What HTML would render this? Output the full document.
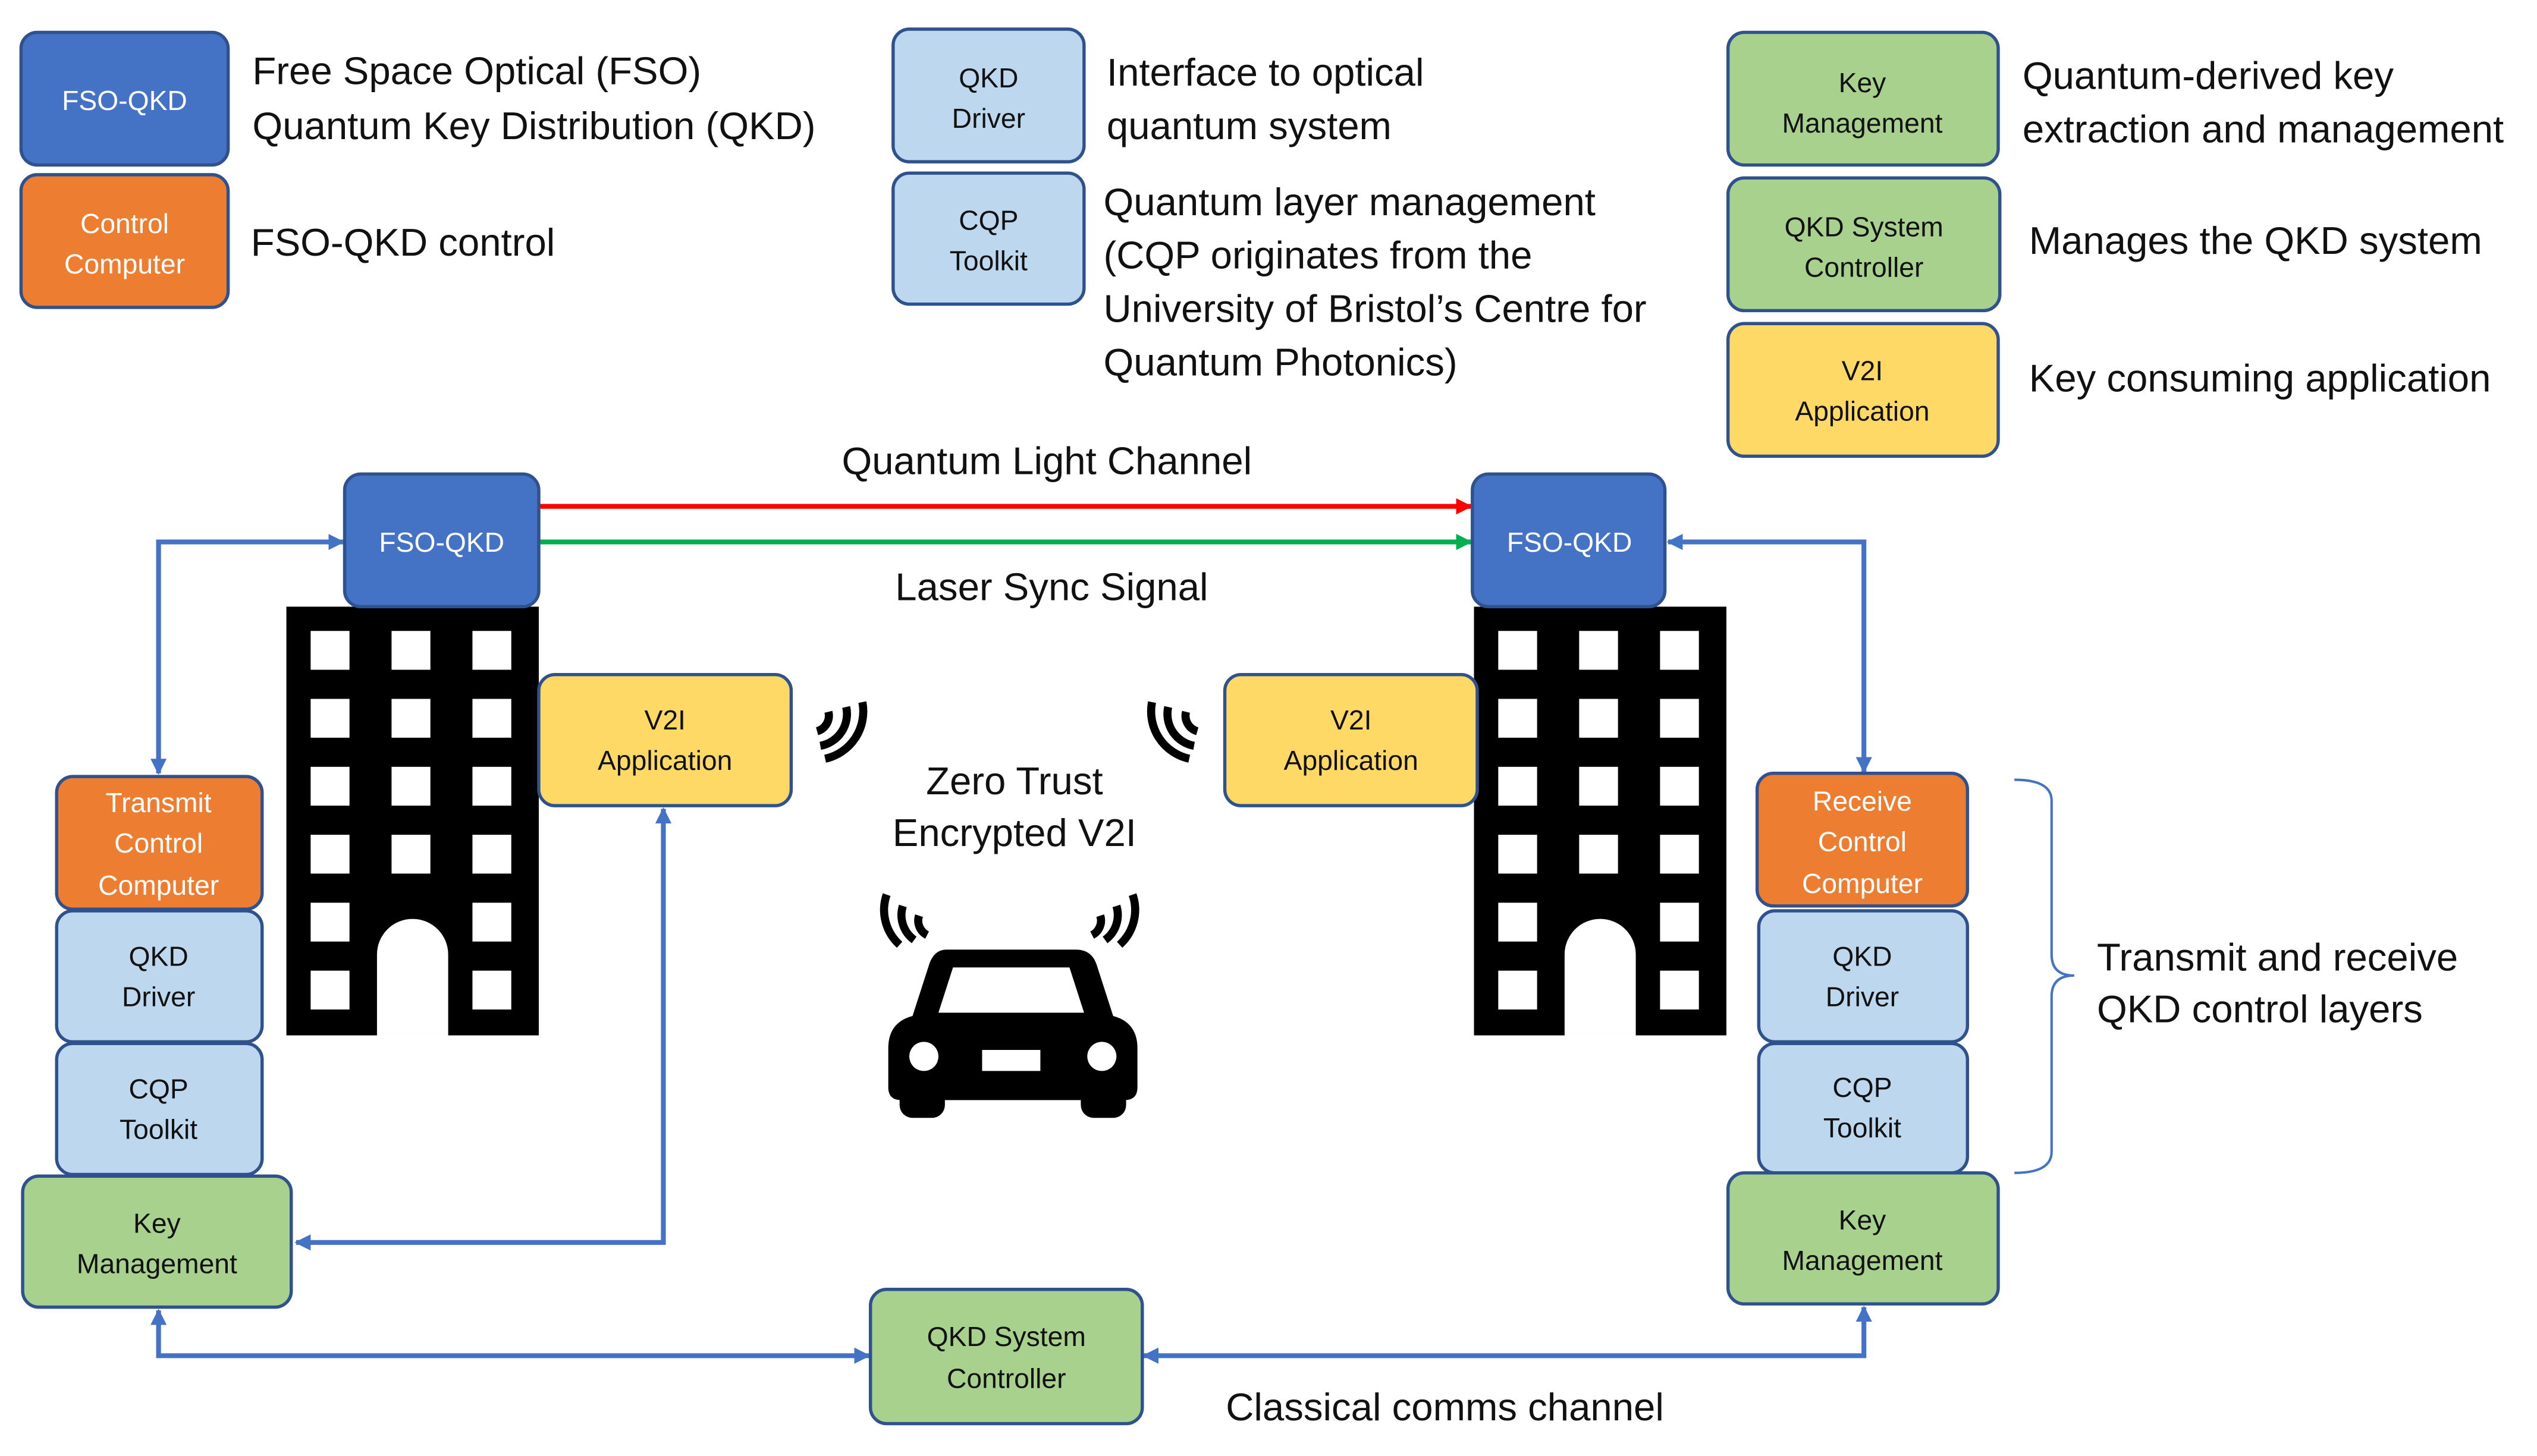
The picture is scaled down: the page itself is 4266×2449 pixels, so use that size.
<!DOCTYPE html>
<html><head><meta charset="utf-8"><style>
html,body{margin:0;padding:0;background:#fff}
svg{display:block}
text{font-family:"Liberation Sans","DejaVu Sans",sans-serif}
.l{font-size:24px;fill:#111}
.b{font-size:17px;text-anchor:middle;fill:#111}
.w{fill:#fff}
</style></head><body>
<svg width="4266" height="2449" viewBox="0 0 1568 900" preserveAspectRatio="none" xmlns="http://www.w3.org/2000/svg">
<defs>
<marker id="ab" markerWidth="10" markerHeight="10" refX="9" refY="5" orient="auto-start-reverse" markerUnits="userSpaceOnUse"><path d="M0,0 L10,5 L0,10 z" fill="#4472C4"/></marker>
<marker id="ar" markerWidth="10" markerHeight="10" refX="9" refY="5" orient="auto" markerUnits="userSpaceOnUse"><path d="M0,0 L10,5 L0,10 z" fill="#FF0000"/></marker>
<marker id="ag" markerWidth="10" markerHeight="10" refX="9" refY="5" orient="auto" markerUnits="userSpaceOnUse"><path d="M0,0 L10,5 L0,10 z" fill="#00B050"/></marker>
<g id="bld">
<rect x="0" y="0" width="156" height="265" fill="#000"/>
<g fill="#fff">
<rect x="15" y="15" width="24" height="24"/><rect x="65" y="15" width="24" height="24"/><rect x="115" y="15" width="24" height="24"/>
<rect x="15" y="57" width="24" height="24"/><rect x="65" y="57" width="24" height="24"/><rect x="115" y="57" width="24" height="24"/>
<rect x="15" y="99" width="24" height="24"/><rect x="65" y="99" width="24" height="24"/><rect x="115" y="99" width="24" height="24"/>
<rect x="15" y="141" width="24" height="24"/><rect x="65" y="141" width="24" height="24"/><rect x="115" y="141" width="24" height="24"/>
<rect x="15" y="183" width="24" height="24"/><rect x="115" y="183" width="24" height="24"/>
<rect x="15" y="225" width="24" height="24"/><rect x="115" y="225" width="24" height="24"/>
<path d="M56,265 L56,215 A22,22 0 0 1 100,215 L100,265 z"/>
</g>
</g>
</defs>

<!-- legend boxes -->
<g stroke="#2F528F" stroke-width="2">
<rect x="13" y="20" width="128" height="82" rx="10" fill="#4472C4"/>
<rect x="13" y="108" width="128" height="82" rx="10" fill="#ED7D31"/>
<rect x="552" y="18" width="118" height="82" rx="10" fill="#BDD7EE"/>
<rect x="552" y="107" width="118" height="81" rx="10" fill="#BDD7EE"/>
<rect x="1068" y="20" width="167" height="82" rx="10" fill="#A9D18E"/>
<rect x="1068" y="110" width="168" height="82" rx="10" fill="#A9D18E"/>
<rect x="1068" y="200" width="167" height="82" rx="10" fill="#FFD966"/>
</g>
<text class="b w" x="77" y="68">FSO-QKD</text>
<text class="b w" x="77" y="144">Control</text><text class="b w" x="77" y="169">Computer</text>
<text class="b" x="611" y="54">QKD</text><text class="b" x="611" y="79">Driver</text>
<text class="b" x="611" y="142">CQP</text><text class="b" x="611" y="167">Toolkit</text>
<text class="b" x="1151" y="57">Key</text><text class="b" x="1151" y="82">Management</text>
<text class="b" x="1152" y="146">QKD System</text><text class="b" x="1152" y="171">Controller</text>
<text class="b" x="1151" y="235">V2I</text><text class="b" x="1151" y="260">Application</text>

<text class="l" x="156" y="52">Free Space Optical (FSO)</text>
<text class="l" x="156" y="86">Quantum Key Distribution (QKD)</text>
<text class="l" x="155" y="158">FSO-QKD control</text>
<text class="l" x="684" y="53">Interface to optical</text>
<text class="l" x="684" y="86">quantum system</text>
<text class="l" x="682" y="133">Quantum layer management</text>
<text class="l" x="682" y="166">(CQP originates from the</text>
<text class="l" x="682" y="199">University of Bristol’s Centre for</text>
<text class="l" x="682" y="232">Quantum Photonics)</text>
<text class="l" x="1250" y="55">Quantum-derived key</text>
<text class="l" x="1250" y="88">extraction and management</text>
<text class="l" x="1254" y="157">Manages the QKD system</text>
<text class="l" x="1254" y="242">Key consuming application</text>

<!-- buildings -->
<use href="#bld" x="177" y="375"/>
<use href="#bld" x="911" y="375"/>

<!-- connectors -->
<line x1="333" y1="313" x2="909" y2="313" stroke="#FF0000" stroke-width="3" marker-end="url(#ar)"/>
<line x1="333" y1="335" x2="909" y2="335" stroke="#00B050" stroke-width="3" marker-end="url(#ag)"/>
<g stroke="#4472C4" stroke-width="3" fill="none">
<polyline points="98,478 98,335 212,335" marker-start="url(#ab)" marker-end="url(#ab)"/>
<polyline points="1031,335 1152,335 1152,477" marker-start="url(#ab)" marker-end="url(#ab)"/>
<polyline points="410,500 410,768 183,768" marker-start="url(#ab)" marker-end="url(#ab)"/>
<polyline points="98,810 98,838 537,838" marker-start="url(#ab)" marker-end="url(#ab)"/>
<polyline points="707,838 1152,838 1152,808" marker-start="url(#ab)" marker-end="url(#ab)"/>
</g>

<!-- diagram boxes -->
<g stroke="#2F528F" stroke-width="2">
<rect x="213" y="293" width="120" height="82" rx="10" fill="#4472C4"/>
<rect x="910" y="293" width="119" height="82" rx="10" fill="#4472C4"/>
<rect x="333" y="417" width="156" height="81" rx="10" fill="#FFD966"/>
<rect x="757" y="417" width="156" height="81" rx="10" fill="#FFD966"/>
<rect x="35" y="480" width="127" height="82" rx="10" fill="#ED7D31"/>
<rect x="35" y="563" width="127" height="81" rx="10" fill="#BDD7EE"/>
<rect x="35" y="645" width="127" height="81" rx="10" fill="#BDD7EE"/>
<rect x="14" y="727" width="166" height="81" rx="10" fill="#A9D18E"/>
<rect x="1086" y="478" width="130" height="82" rx="10" fill="#ED7D31"/>
<rect x="1087" y="563" width="129" height="81" rx="10" fill="#BDD7EE"/>
<rect x="1087" y="645" width="129" height="80" rx="10" fill="#BDD7EE"/>
<rect x="1068" y="725" width="167" height="81" rx="10" fill="#A9D18E"/>
<rect x="538" y="797" width="168" height="83" rx="10" fill="#A9D18E"/>
</g>
<text class="b w" x="273" y="341">FSO-QKD</text>
<text class="b w" x="970" y="341">FSO-QKD</text>
<text class="b" x="411" y="451">V2I</text><text class="b" x="411" y="476">Application</text>
<text class="b" x="835" y="451">V2I</text><text class="b" x="835" y="476">Application</text>
<text class="b w" x="98" y="502">Transmit</text><text class="b w" x="98" y="527">Control</text><text class="b w" x="98" y="553">Computer</text>
<text class="b" x="98" y="597">QKD</text><text class="b" x="98" y="622">Driver</text>
<text class="b" x="98" y="679">CQP</text><text class="b" x="98" y="704">Toolkit</text>
<text class="b" x="97" y="762">Key</text><text class="b" x="97" y="787">Management</text>
<text class="b w" x="1151" y="501">Receive</text><text class="b w" x="1151" y="526">Control</text><text class="b w" x="1151" y="552">Computer</text>
<text class="b" x="1151" y="597">QKD</text><text class="b" x="1151" y="622">Driver</text>
<text class="b" x="1151" y="678">CQP</text><text class="b" x="1151" y="703">Toolkit</text>
<text class="b" x="1151" y="760">Key</text><text class="b" x="1151" y="785">Management</text>
<text class="b" x="622" y="832">QKD System</text><text class="b" x="622" y="858">Controller</text>

<!-- labels -->
<text class="l" x="647" y="293" text-anchor="middle">Quantum Light Channel</text>
<text class="l" x="650" y="371" text-anchor="middle">Laser Sync Signal</text>
<text class="l" x="627" y="491" text-anchor="middle">Zero Trust</text>
<text class="l" x="627" y="523" text-anchor="middle">Encrypted V2I</text>
<text class="l" x="893" y="878" text-anchor="middle">Classical comms channel</text>
<text class="l" x="1296" y="600">Transmit and receive</text>
<text class="l" x="1296" y="632">QKD control layers</text>

<!-- brace -->
<path d="M1245,482 Q1268,482 1268,495 L1268,590 Q1268,603 1282,603 Q1268,603 1268,616 L1268,712 Q1268,725 1245,725" fill="none" stroke="#4472C4" stroke-width="1.5"/>

<!-- wifi icons -->
<g fill="none" stroke="#000" stroke-width="5" stroke-linecap="butt">
<path d="M505,452 A10,10 0 0 0 512,440"/>
<path d="M507,461 A20,20 0 0 0 523,437"/>
<path d="M510,469 A30,30 0 0 0 533,434"/>
<path d="M740,452 A10,10 0 0 1 733,440"/>
<path d="M738,461 A20,20 0 0 1 722,437"/>
<path d="M735,469 A30,30 0 0 1 712,434"/>
<path d="M573,578 A10,10 0 0 1 568,566"/>
<path d="M565,581 A19,19 0 0 1 558,560"/>
<path d="M556,584 A29,29 0 0 1 548,553"/>
<path d="M675,578 A10,10 0 0 0 680,566"/>
<path d="M683,581 A19,19 0 0 0 690,560"/>
<path d="M692,584 A29,29 0 0 0 700,553"/>
</g>
<!-- car -->
<g fill="#000">
<path d="M585,587 L665,587 Q675,587 678,597 L688,628 Q703,632 703,648 L703,672 Q703,680 695,680 L557,680 Q549,680 549,672 L549,648 Q549,632 564,628 L574,597 Q577,587 585,587 z"/>
<rect x="556" y="670" width="28" height="21" rx="8"/>
<rect x="668" y="670" width="28" height="21" rx="8"/>
</g>
<path d="M589,598 L661,598 L670,626 L580,626 z" fill="#fff"/>
<circle cx="571" cy="653" r="9" fill="#fff"/>
<circle cx="681" cy="653" r="9" fill="#fff"/>
<rect x="607" y="649" width="36" height="13" fill="#fff"/>
</svg>
</body></html>
